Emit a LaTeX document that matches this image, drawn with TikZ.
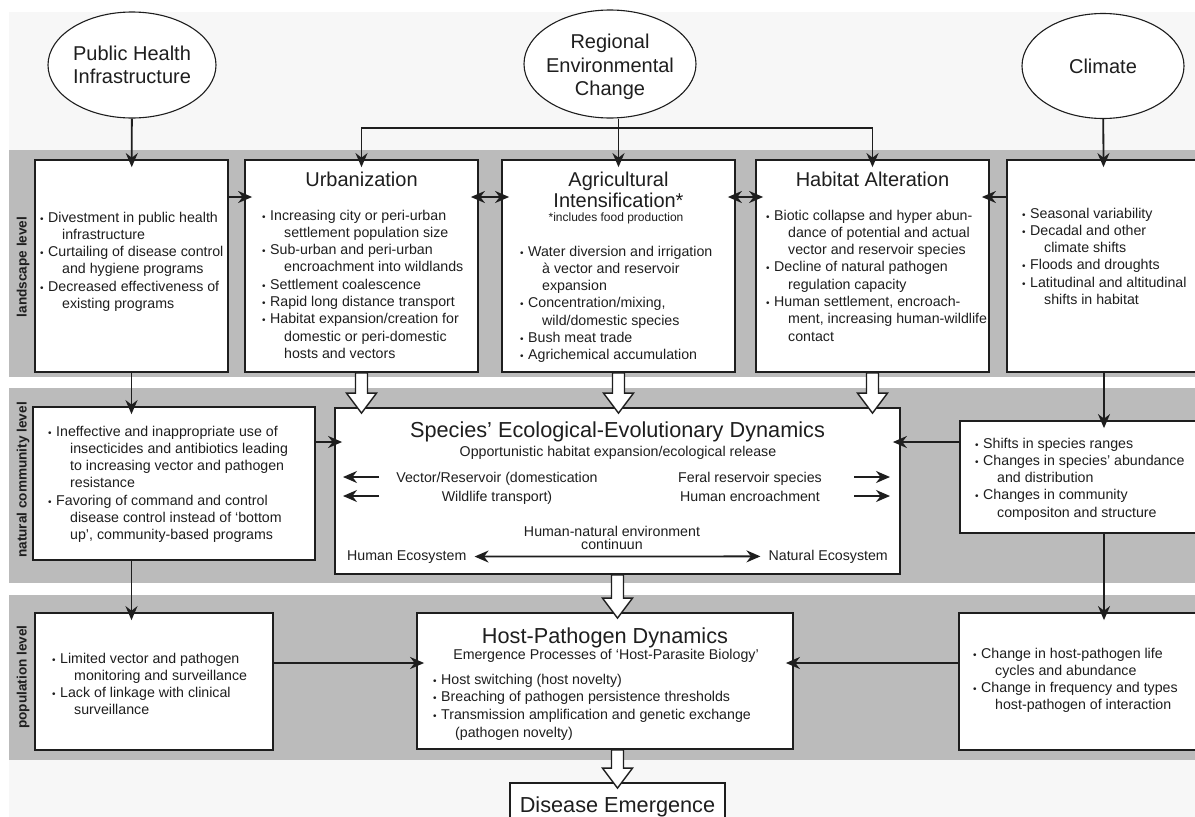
\documentclass[tikz,border=0pt]{standalone}
\usepackage{fontspec}
\setmainfont{Liberation Sans}
\usetikzlibrary{arrows.meta,shapes.geometric,calc}
\definecolor{band}{HTML}{BBBBBB}
\definecolor{pale}{HTML}{F7F7F7}
\definecolor{ink}{HTML}{1E1E1E}
\newcommand{\itm}{\makebox[8pt][l]{\fontsize{10}{10}\selectfont\textbullet}}
\newcommand{\cnt}{\hspace*{22pt}}
\newcommand{\fatarrow}[2]{\path[fat] let \p1=(#1), \p2=(#2) in
  (\x1-6pt,\y1) -- (\x1-6pt,\y2+14pt) -- (\x1-15pt,\y2+14pt) -- (\x1,\y2-6pt)
  -- (\x1+15pt,\y2+14pt) -- (\x1+6pt,\y2+14pt) -- (\x1+6pt,\y1) -- cycle;}
\begin{document}
\begin{tikzpicture}[x=1pt,y=-1pt,
    box/.style={draw=ink,fill=white,line width=1.8pt,inner sep=0pt},
    oval/.style={draw=ink,fill=white,ellipse,line width=1.1pt,inner sep=0pt},
    txt/.style={text=ink,inner sep=0pt,font=\fontsize{14.2}{17.3}\selectfont,align=left,anchor=base west},
    heading/.style={text=ink,inner sep=0pt,font=\fontsize{20}{21}\selectfont,align=center,anchor=base},
    bigtitle/.style={text=ink,inner sep=0pt,font=\fontsize{21.7}{24}\selectfont,anchor=base},
    lvl/.style={text=ink,inner sep=0pt,font=\bfseries\fontsize{13.6}{14}\selectfont,rotate=90},
    link/.style={draw=ink,line width=1.8pt,line join=miter,-{Stealth[length=14pt,width=12pt]},shorten >=-8pt},
    twoway/.style={link,{Stealth[length=14pt,width=12pt]}-{Stealth[length=14pt,width=12pt]},shorten <=-8pt},
    pointer/.style={draw=ink,line width=1.8pt,-{Stealth[length=14pt,width=12pt]}},
    fat/.style={draw=ink,fill=white,line width=1.4pt,line join=miter}]
  \useasboundingbox (0,0) rectangle (1195,817);
  \clip (0,0) rectangle (1195,817);
  \fill[white] (0,0) rectangle (1195,817);
  \fill[pale] (9,12) rectangle (1195,817);
  \fill[band] (9,150) rectangle (1195,377);
  \fill[white] (9,377) rectangle (1195,388);
  \fill[band] (9,388) rectangle (1195,583);
  \fill[white] (9,583) rectangle (1195,595);
  \fill[band] (9,595) rectangle (1195,760);
  \node[lvl] (l1) at (23,267) {landscape level};
  \node[lvl] (l2) at (23,480) {natural community level};
  \node[lvl] (l3) at (23,677) {population level};

  % multi-line texts: base = baseline of their last line
  \node[oval,minimum width=168pt,minimum height=106pt] (0) at (132,65) {};
  \node[oval,minimum width=172pt,minimum height=108pt] (1) at (610,64) {};
  \node[oval,minimum width=162pt,minimum height=105pt] (2) at (1103,66) {};
  \node[heading,anchor=center,font=\fontsize{20}{23}\selectfont] (0t) at (0) {Public Health\\Infrastructure};
  \node[heading,anchor=center,font=\fontsize{20}{23.5}\selectfont] (1t) at (610,67) {Regional\\Environmental\\Change};
  \node[heading,anchor=center] (2t) at (2) {Climate};

  \node[box,minimum width=193pt,minimum height=212pt] (3) at (131.5,266) {};
  \node[box,minimum width=233pt,minimum height=212pt] (4) at (361.5,266) {};
  \node[box,minimum width=233pt,minimum height=212pt] (5) at (618.5,266) {};
  \node[box,minimum width=233pt,minimum height=212pt] (6) at (872.5,266) {};
  \node[box,minimum width=194pt,minimum height=212pt] (7) at (1104,266) {};
  \node[txt] (3t) at (40,308.5) {\itm Divestment in public health\\\cnt infrastructure\\\itm Curtailing of disease control\\\cnt and hygiene programs\\\itm Decreased effectiveness of\\\cnt existing programs};
  \node[heading] (4h) at (361.5,186) {Urbanization};
  \node[txt] (4t) at (262,358.4) {\itm Increasing city or peri-urban\\\cnt settlement population size\\\itm Sub-urban and peri-urban\\\cnt encroachment into wildlands\\\itm Settlement coalescence\\\itm Rapid long distance transport\\\itm Habitat expansion/creation for\\\cnt domestic or peri-domestic\\\cnt hosts and vectors};
  \node[heading] (5h) at (618.5,207) {Agricultural\\Intensification*};
  \node[text=ink,inner sep=0pt,font=\fontsize{12}{12}\selectfont,anchor=base] (5s) at (616,221) {*includes food production};
  \node[txt] (5t) at (520,359.8) {\itm Water diversion and irrigation\\\cnt à vector and reservoir\\\cnt expansion\\\itm Concentration/mixing,\\\cnt wild/domestic species\\\itm Bush meat trade\\\itm Agrichemical accumulation};
  \node[heading] (6h) at (872.5,186) {Habitat Alteration};
  \node[txt] (6t) at (766,341.1) {\itm Biotic collapse and hyper abun-\\\cnt dance of potential and actual\\\cnt vector and reservoir species\\\itm Decline of natural pathogen\\\cnt regulation capacity\\\itm Human settlement, encroach-\\\cnt ment, increasing human-wildlife\\\cnt contact};
  \node[txt] (7t) at (1022,304.5) {\itm Seasonal variability\\\itm Decadal and other\\\cnt climate shifts\\\itm Floods and droughts\\\itm Latitudinal and altitudinal\\\cnt shifts in habitat};

  \node[box,minimum width=282pt,minimum height=153pt] (8) at (174,483.5) {};
  \node[box,minimum width=565pt,minimum height=166pt] (9) at (617.5,491) {};
  \node[box,minimum width=245pt,minimum height=112pt] (10) at (1082.5,477) {};
  \node[txt] (8t) at (48,539.8) {\itm Ineffective and inappropriate use of\\\cnt insecticides and antibiotics leading\\\cnt to increasing vector and pathogen\\\cnt resistance\\\itm Favoring of command and control\\\cnt disease control instead of `bottom\\\cnt up', community-based programs};
  \node[bigtitle] (9h) at (617.5,437) {Species' Ecological-Evolutionary Dynamics};
  \node[txt,anchor=base] (9s) at (618,456) {Opportunistic habitat expansion/ecological release};
  \node[txt,align=center,anchor=base,font=\fontsize{14.2}{19}\selectfont] (9l) at (497,501) {Vector/Reservoir (domestication\\Wildlife transport)};
  \node[txt,align=center,anchor=base,font=\fontsize{14.2}{19}\selectfont] (9r) at (750,501) {Feral reservoir species\\Human encroachment};
  \node[txt,align=center,anchor=base,font=\fontsize{14.2}{13}\selectfont] (9c) at (612,549) {Human-natural environment\\continuun};
  \node[txt] (9a) at (347,560) {Human Ecosystem};
  \node[txt,anchor=base east] (9b) at (888,560) {Natural Ecosystem};
  \node[txt] (10t) at (975,517.2) {\itm Shifts in species ranges\\\itm Changes in species' abundance\\\cnt and distribution\\\itm Changes in community\\\cnt compositon and structure};

  \node[box,minimum width=238pt,minimum height=137pt] (11) at (154,681.5) {};
  \node[box,minimum width=376pt,minimum height=136pt] (12) at (605,681) {};
  \node[box,minimum width=246pt,minimum height=137pt] (13) at (1082,681.5) {};
  \node[box,minimum width=215pt,minimum height=60pt] (14) at (617.5,813) {};
  \node[txt] (11t) at (52,714.9) {\itm Limited vector and pathogen\\\cnt monitoring and surveillance\\\itm Lack of linkage with clinical\\\cnt surveillance};
  \node[bigtitle] (12h) at (605,643) {Host-Pathogen Dynamics};
  \node[txt,anchor=base] (12s) at (606,659) {Emergence Processes of `Host-Parasite Biology'};
  \node[txt,font=\fontsize{14.2}{17.8}\selectfont] (12t) at (433,737.4) {\itm Host switching (host novelty)\\\itm Breaching of pathogen persistence thresholds\\\itm Transmission amplification and genetic exchange\\\cnt (pathogen novelty)};
  \node[txt] (13t) at (973,709.9) {\itm Change in host-pathogen life\\\cnt cycles and abundance\\\itm Change in frequency and types\\\cnt host-pathogen of interaction};
  \node[bigtitle] (14t) at (617.5,812) {Disease Emergence};

  \coordinate (r1) at (4.north |- 0,128);
  \coordinate (r2) at (6.north |- 0,128);
  \draw[link] (0) -- (3);
  \draw[link] (2) -- (7);
  \draw[link] (5.north |- 1.south) -- (5.north);
  \draw[link] (r1) -- (r2) -- (6.north);
  \draw[link] (r2) -- (r1) -- (4.north);
  \draw[link] (3.east |- 0,197) -- (4.west |- 0,197);
  \draw[twoway] (4.east |- 0,197) -- (5.west |- 0,197);
  \draw[twoway] (5.east |- 0,197) -- (6.west |- 0,197);
  \draw[link] (7.west |- 0,197) -- (6.east |- 0,197);
  \draw[link] (3.south) -- (3.south |- 8.north);
  \draw[link] (3.south |- 8.south) -- (3.south |- 11.north);
  \draw[link] (7.south) -- (7.south |- 10.north);
  \draw[link] (7.south |- 10.south) -- (7.south |- 13.north);
  \draw[link] (8.east |- 0,442) -- (9.west |- 0,442);
  \draw[link] (10.west |- 0,442) -- (9.east |- 0,442);
  \draw[link] (11.east |- 0,663) -- (12.west |- 0,663);
  \draw[link] (13.west |- 0,663) -- (12.east |- 0,663);

  \coordinate (v1) at (379,477); \coordinate (v2) at (343,477);
  \coordinate (v3) at (379,496); \coordinate (v4) at (343,496);
  \coordinate (f1) at (854,477); \coordinate (f2) at (890,477);
  \coordinate (f3) at (854,496); \coordinate (f4) at (890,496);
  \draw[pointer] (v1) -- (v2);
  \draw[pointer] (v3) -- (v4);
  \draw[pointer] (f1) -- (f2);
  \draw[pointer] (f3) -- (f4);
  \draw[pointer,{Stealth[length=14pt,width=12pt]}-{Stealth[length=14pt,width=12pt]},shorten <=8pt,shorten >=8pt] (9a) -- (9b);

  \fatarrow{4.south}{4.south |- 9.north}
  \fatarrow{5.south}{5.south |- 9.north}
  \fatarrow{6.south}{6.south |- 9.north}
  \fatarrow{9.south}{9.south |- 12.north}
  \fatarrow{14.north |- 12.south}{14.north}
\end{tikzpicture}
\end{document}
